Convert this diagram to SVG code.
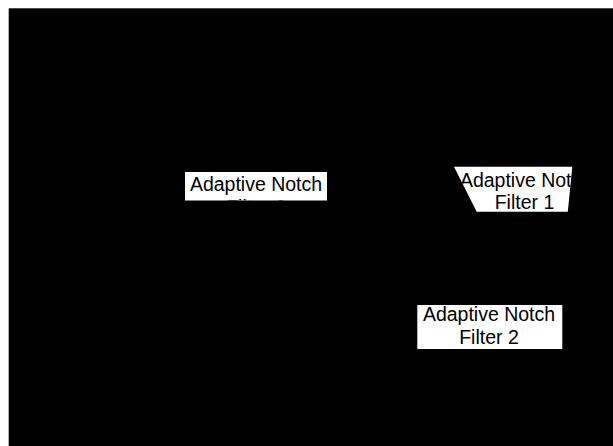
<svg xmlns="http://www.w3.org/2000/svg" width="613" height="446" viewBox="0 0 613 446">
<style>
.box{fill:#fff;stroke:none}
.lbl{font-family:"Liberation Sans",Arial,sans-serif;font-size:19.5px;fill:#000;text-anchor:middle}
</style>
<defs>
<clipPath id="c3"><rect x="185" y="172" width="142" height="28.5"/></clipPath>
<clipPath id="c1"><polygon points="454,166.7 572.3,166.7 567.8,211.7 476.7,211.7"/></clipPath>
<clipPath id="c2"><rect x="417.3" y="305" width="145" height="44"/></clipPath>
</defs>
<rect x="0" y="0" width="613" height="446" fill="#fff"/>
<rect x="8.7" y="8.3" width="604.3" height="437.7" fill="#000"/>
<g id="connectors"></g>
<g id="anf3">
<rect class="box" x="185" y="172" width="142" height="28.5"/>
<g clip-path="url(#c3)">
<text class="lbl" x="256" y="190.7">Adaptive Notch</text>
<text class="lbl" x="256" y="213.5">Filter 3</text>
</g>
</g>
<g id="anf1">
<polygon class="box" points="454,166.7 572.3,166.7 567.8,211.7 476.7,211.7"/>
<g clip-path="url(#c1)">
<text class="lbl" x="526" y="186.7">Adaptive Notch</text>
<text class="lbl" x="524.5" y="208.5">Filter 1</text>
</g>
</g>
<g id="anf2">
<rect class="box" x="417.3" y="305" width="145" height="44"/>
<g clip-path="url(#c2)">
<text class="lbl" x="489" y="321">Adaptive Notch</text>
<text class="lbl" x="489" y="344.3">Filter 2</text>
</g>
</g>
</svg>
